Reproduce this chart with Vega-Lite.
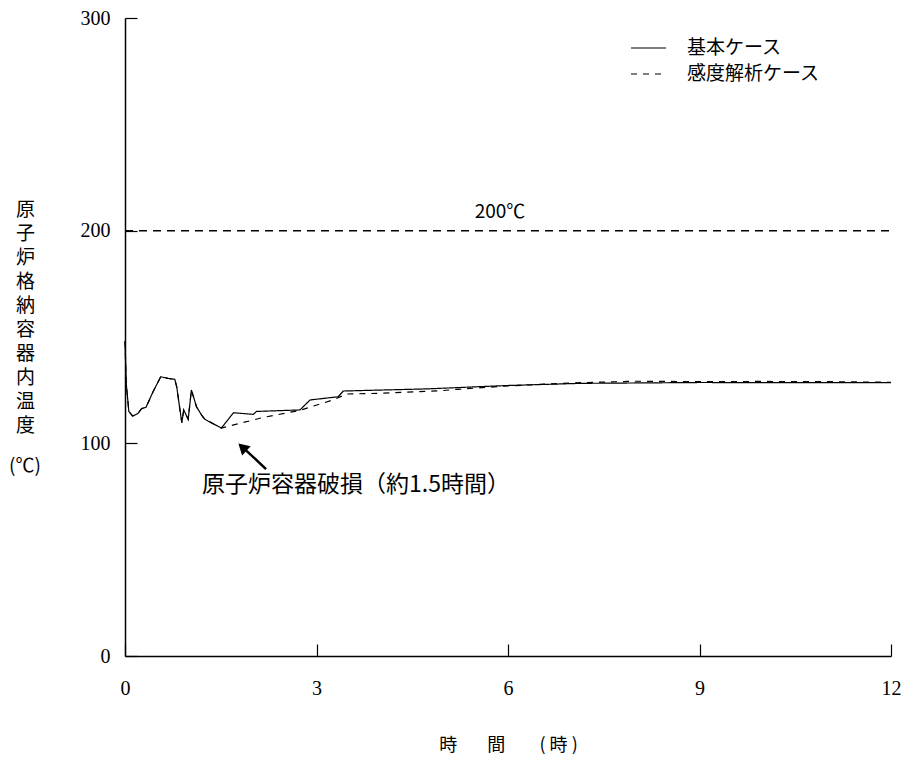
{
  "$schema": "https://vega.github.io/schema/vega-lite/v6.json",
  "width": 766,
  "height": 638,
  "autosize": {"type": "none"},
  "padding": {"left": 125, "top": 18, "right": 14, "bottom": 101},
  "background": "white",
  "config": {"view": {"stroke": null}, "font": "Noto Sans CJK JP"},
  "datasets": {
    "series": [
      {"t": 0, "v": 148, "case": "基本ケース"},
      {"t": 0.02, "v": 128, "case": "基本ケース"},
      {"t": 0.06, "v": 115, "case": "基本ケース"},
      {"t": 0.12, "v": 112.8, "case": "基本ケース"},
      {"t": 0.2, "v": 114, "case": "基本ケース"},
      {"t": 0.26, "v": 116.3, "case": "基本ケース"},
      {"t": 0.33, "v": 117, "case": "基本ケース"},
      {"t": 0.44, "v": 124.3, "case": "基本ケース"},
      {"t": 0.56, "v": 131.3, "case": "基本ケース"},
      {"t": 0.68, "v": 130.5, "case": "基本ケース"},
      {"t": 0.78, "v": 130.1, "case": "基本ケース"},
      {"t": 0.81, "v": 126.6, "case": "基本ケース"},
      {"t": 0.89, "v": 109.7, "case": "基本ケース"},
      {"t": 0.92, "v": 115.7, "case": "基本ケース"},
      {"t": 0.99, "v": 111.3, "case": "基本ケース"},
      {"t": 1.04, "v": 125.1, "case": "基本ケース"},
      {"t": 1.12, "v": 117.2, "case": "基本ケース"},
      {"t": 1.2, "v": 113.3, "case": "基本ケース"},
      {"t": 1.25, "v": 111.3, "case": "基本ケース"},
      {"t": 1.51, "v": 107.2, "case": "基本ケース"},
      {"t": 1.7, "v": 114.4, "case": "基本ケース"},
      {"t": 2.01, "v": 113.6, "case": "基本ケース"},
      {"t": 2.06, "v": 115, "case": "基本ケース"},
      {"t": 2.74, "v": 115.7, "case": "基本ケース"},
      {"t": 2.9, "v": 120.4, "case": "基本ケース"},
      {"t": 3.34, "v": 121.9, "case": "基本ケース"},
      {"t": 3.42, "v": 124.6, "case": "基本ケース"},
      {"t": 4.73, "v": 125.6, "case": "基本ケース"},
      {"t": 6, "v": 127.2, "case": "基本ケース"},
      {"t": 7.13, "v": 128.2, "case": "基本ケース"},
      {"t": 9, "v": 128.6, "case": "基本ケース"},
      {"t": 12, "v": 128.5, "case": "基本ケース"},
      {"t": 0, "v": 148, "case": "感度解析ケース"},
      {"t": 0.02, "v": 128, "case": "感度解析ケース"},
      {"t": 0.06, "v": 115, "case": "感度解析ケース"},
      {"t": 0.12, "v": 112.8, "case": "感度解析ケース"},
      {"t": 0.2, "v": 114, "case": "感度解析ケース"},
      {"t": 0.26, "v": 116.3, "case": "感度解析ケース"},
      {"t": 0.33, "v": 117, "case": "感度解析ケース"},
      {"t": 0.44, "v": 124.3, "case": "感度解析ケース"},
      {"t": 0.56, "v": 131.3, "case": "感度解析ケース"},
      {"t": 0.68, "v": 130.5, "case": "感度解析ケース"},
      {"t": 0.78, "v": 130.1, "case": "感度解析ケース"},
      {"t": 0.81, "v": 126.6, "case": "感度解析ケース"},
      {"t": 0.89, "v": 109.7, "case": "感度解析ケース"},
      {"t": 0.92, "v": 115.7, "case": "感度解析ケース"},
      {"t": 0.99, "v": 111.3, "case": "感度解析ケース"},
      {"t": 1.04, "v": 125.1, "case": "感度解析ケース"},
      {"t": 1.12, "v": 117.2, "case": "感度解析ケース"},
      {"t": 1.2, "v": 113.3, "case": "感度解析ケース"},
      {"t": 1.25, "v": 111.3, "case": "感度解析ケース"},
      {"t": 1.51, "v": 107.2, "case": "感度解析ケース"},
      {"t": 2.17, "v": 112.2, "case": "感度解析ケース"},
      {"t": 2.74, "v": 115.5, "case": "感度解析ケース"},
      {"t": 2.95, "v": 117.5, "case": "感度解析ケース"},
      {"t": 3.26, "v": 120.4, "case": "感度解析ケース"},
      {"t": 3.47, "v": 123.2, "case": "感度解析ケース"},
      {"t": 3.99, "v": 123.5, "case": "感度解析ケース"},
      {"t": 4.93, "v": 124.7, "case": "感度解析ケース"},
      {"t": 5.2, "v": 125.4, "case": "感度解析ケース"},
      {"t": 6, "v": 127, "case": "感度解析ケース"},
      {"t": 7, "v": 128.4, "case": "感度解析ケース"},
      {"t": 8, "v": 129.2, "case": "感度解析ケース"},
      {"t": 9, "v": 129, "case": "感度解析ケース"},
      {"t": 10, "v": 129.1, "case": "感度解析ケース"},
      {"t": 11, "v": 129, "case": "感度解析ケース"},
      {"t": 12, "v": 128.7, "case": "感度解析ケース"}
    ],
    "ref": [{"t0": 0, "t1": 12, "v": 200}],
    "labels": [
      {"t": 5.875, "v": 209, "text": "200℃", "size": 19},
      {"t": 3.62, "v": 80.4, "text": "原子炉容器破損（約1.5時間）", "size": 23},
      {"t": -1.567, "v": 89.5, "text": "(℃)", "size": 19}
    ],
    "arrow": [{"t0": 2.21, "v0": 87.9, "t1": 1.9, "v1": 96.6}],
    "head": [{"t": 1.86, "v": 97.6}]
  },
  "layer": [
    {
      "data": {"name": "ref"},
      "mark": {"type": "rule", "color": "black", "strokeWidth": 1.5, "strokeDash": [8, 6]},
      "encoding": {
        "x": {"field": "t0", "type": "quantitative", "scale": {"domain": [0, 12]}},
        "x2": {"field": "t1"},
        "y": {"field": "v", "type": "quantitative", "scale": {"domain": [0, 300]}}
      }
    },
    {
      "data": {"name": "series"},
      "mark": {"type": "line", "color": "black", "strokeWidth": 1.2},
      "encoding": {
        "x": {
          "field": "t", "type": "quantitative",
          "scale": {"domain": [0, 12], "nice": false},
          "axis": {
            "values": [0, 3, 6, 9, 12],
            "format": "d",
            "grid": false,
            "domainColor": "black", "domainWidth": 1.5,
            "tickColor": "black", "tickSize": -12, "tickWidth": 1.2,
            "labelFont": "Liberation Serif, Times New Roman, DejaVu Serif, serif", "labelFontSize": 20, "labelColor": "black",
            "labelPadding": 34, "labelFlush": false,
            "title": "時　\u00a0\u00a0\u00a0間　\u00a0\u00a0\u00a0\u00a0(\u00a0時\u00a0)",
            "titleFont": "Noto Sans CJK JP", "titleFontSize": 18, "titleFontWeight": "normal",
            "titleColor": "black", "titleX": 383, "titleY": 89, "titleBaseline": "middle"
          }
        },
        "y": {
          "field": "v", "type": "quantitative",
          "scale": {"domain": [0, 300], "nice": false},
          "axis": {
            "values": [0, 100, 200, 300],
            "format": "d",
            "grid": false,
            "domainColor": "black", "domainWidth": 1.5,
            "tickColor": "black", "tickSize": -12, "tickWidth": 1.2,
            "labelFont": "Liberation Serif, Times New Roman, DejaVu Serif, serif", "labelFontSize": 20, "labelColor": "black",
            "labelPadding": 27,
            "title": ["原", "子", "炉", "格", "納", "容", "器", "内", "温", "度"],
            "titleFont": "Noto Sans CJK JP", "titleFontSize": 19, "titleFontWeight": "normal",
            "titleColor": "black", "titleAngle": 0, "titleAlign": "center",
            "titleBaseline": "top", "titleLineHeight": 24, "titleX": -100, "titleY": 182
          }
        },
        "strokeDash": {
          "field": "case", "type": "nominal",
          "scale": {"domain": ["基本ケース", "感度解析ケース"], "range": [[1, 0], [6, 6]]},
          "legend": {
            "title": null, "orient": "none", "legendX": 505, "legendY": 19,
            "symbolType": "stroke", "symbolSize": 1225, "symbolStrokeColor": "black",
            "symbolStrokeWidth": 1.2, "clipHeight": 22,
            "labelFont": "Noto Sans CJK JP", "labelFontSize": 19, "labelColor": "black",
            "labelOffset": 20, "rowPadding": 4
          }
        }
      }
    },
    {
      "data": {"name": "labels"},
      "mark": {"type": "text", "color": "black", "align": "center", "baseline": "middle", "font": "Noto Sans CJK JP", "clip": false},
      "encoding": {
        "x": {"field": "t", "type": "quantitative"},
        "y": {"field": "v", "type": "quantitative"},
        "text": {"field": "text"},
        "size": {"field": "size", "type": "quantitative", "scale": null}
      }
    },
    {
      "data": {"name": "arrow"},
      "mark": {"type": "rule", "color": "black", "strokeWidth": 2.5},
      "encoding": {
        "x": {"field": "t0", "type": "quantitative"},
        "x2": {"field": "t1"},
        "y": {"field": "v0", "type": "quantitative"},
        "y2": {"field": "v1"}
      }
    },
    {
      "data": {"name": "head"},
      "mark": {"type": "point", "shape": "triangle", "filled": true, "color": "black", "opacity": 1, "size": 160, "angle": 313},
      "encoding": {
        "x": {"field": "t", "type": "quantitative"},
        "y": {"field": "v", "type": "quantitative"}
      }
    }
  ]
}
